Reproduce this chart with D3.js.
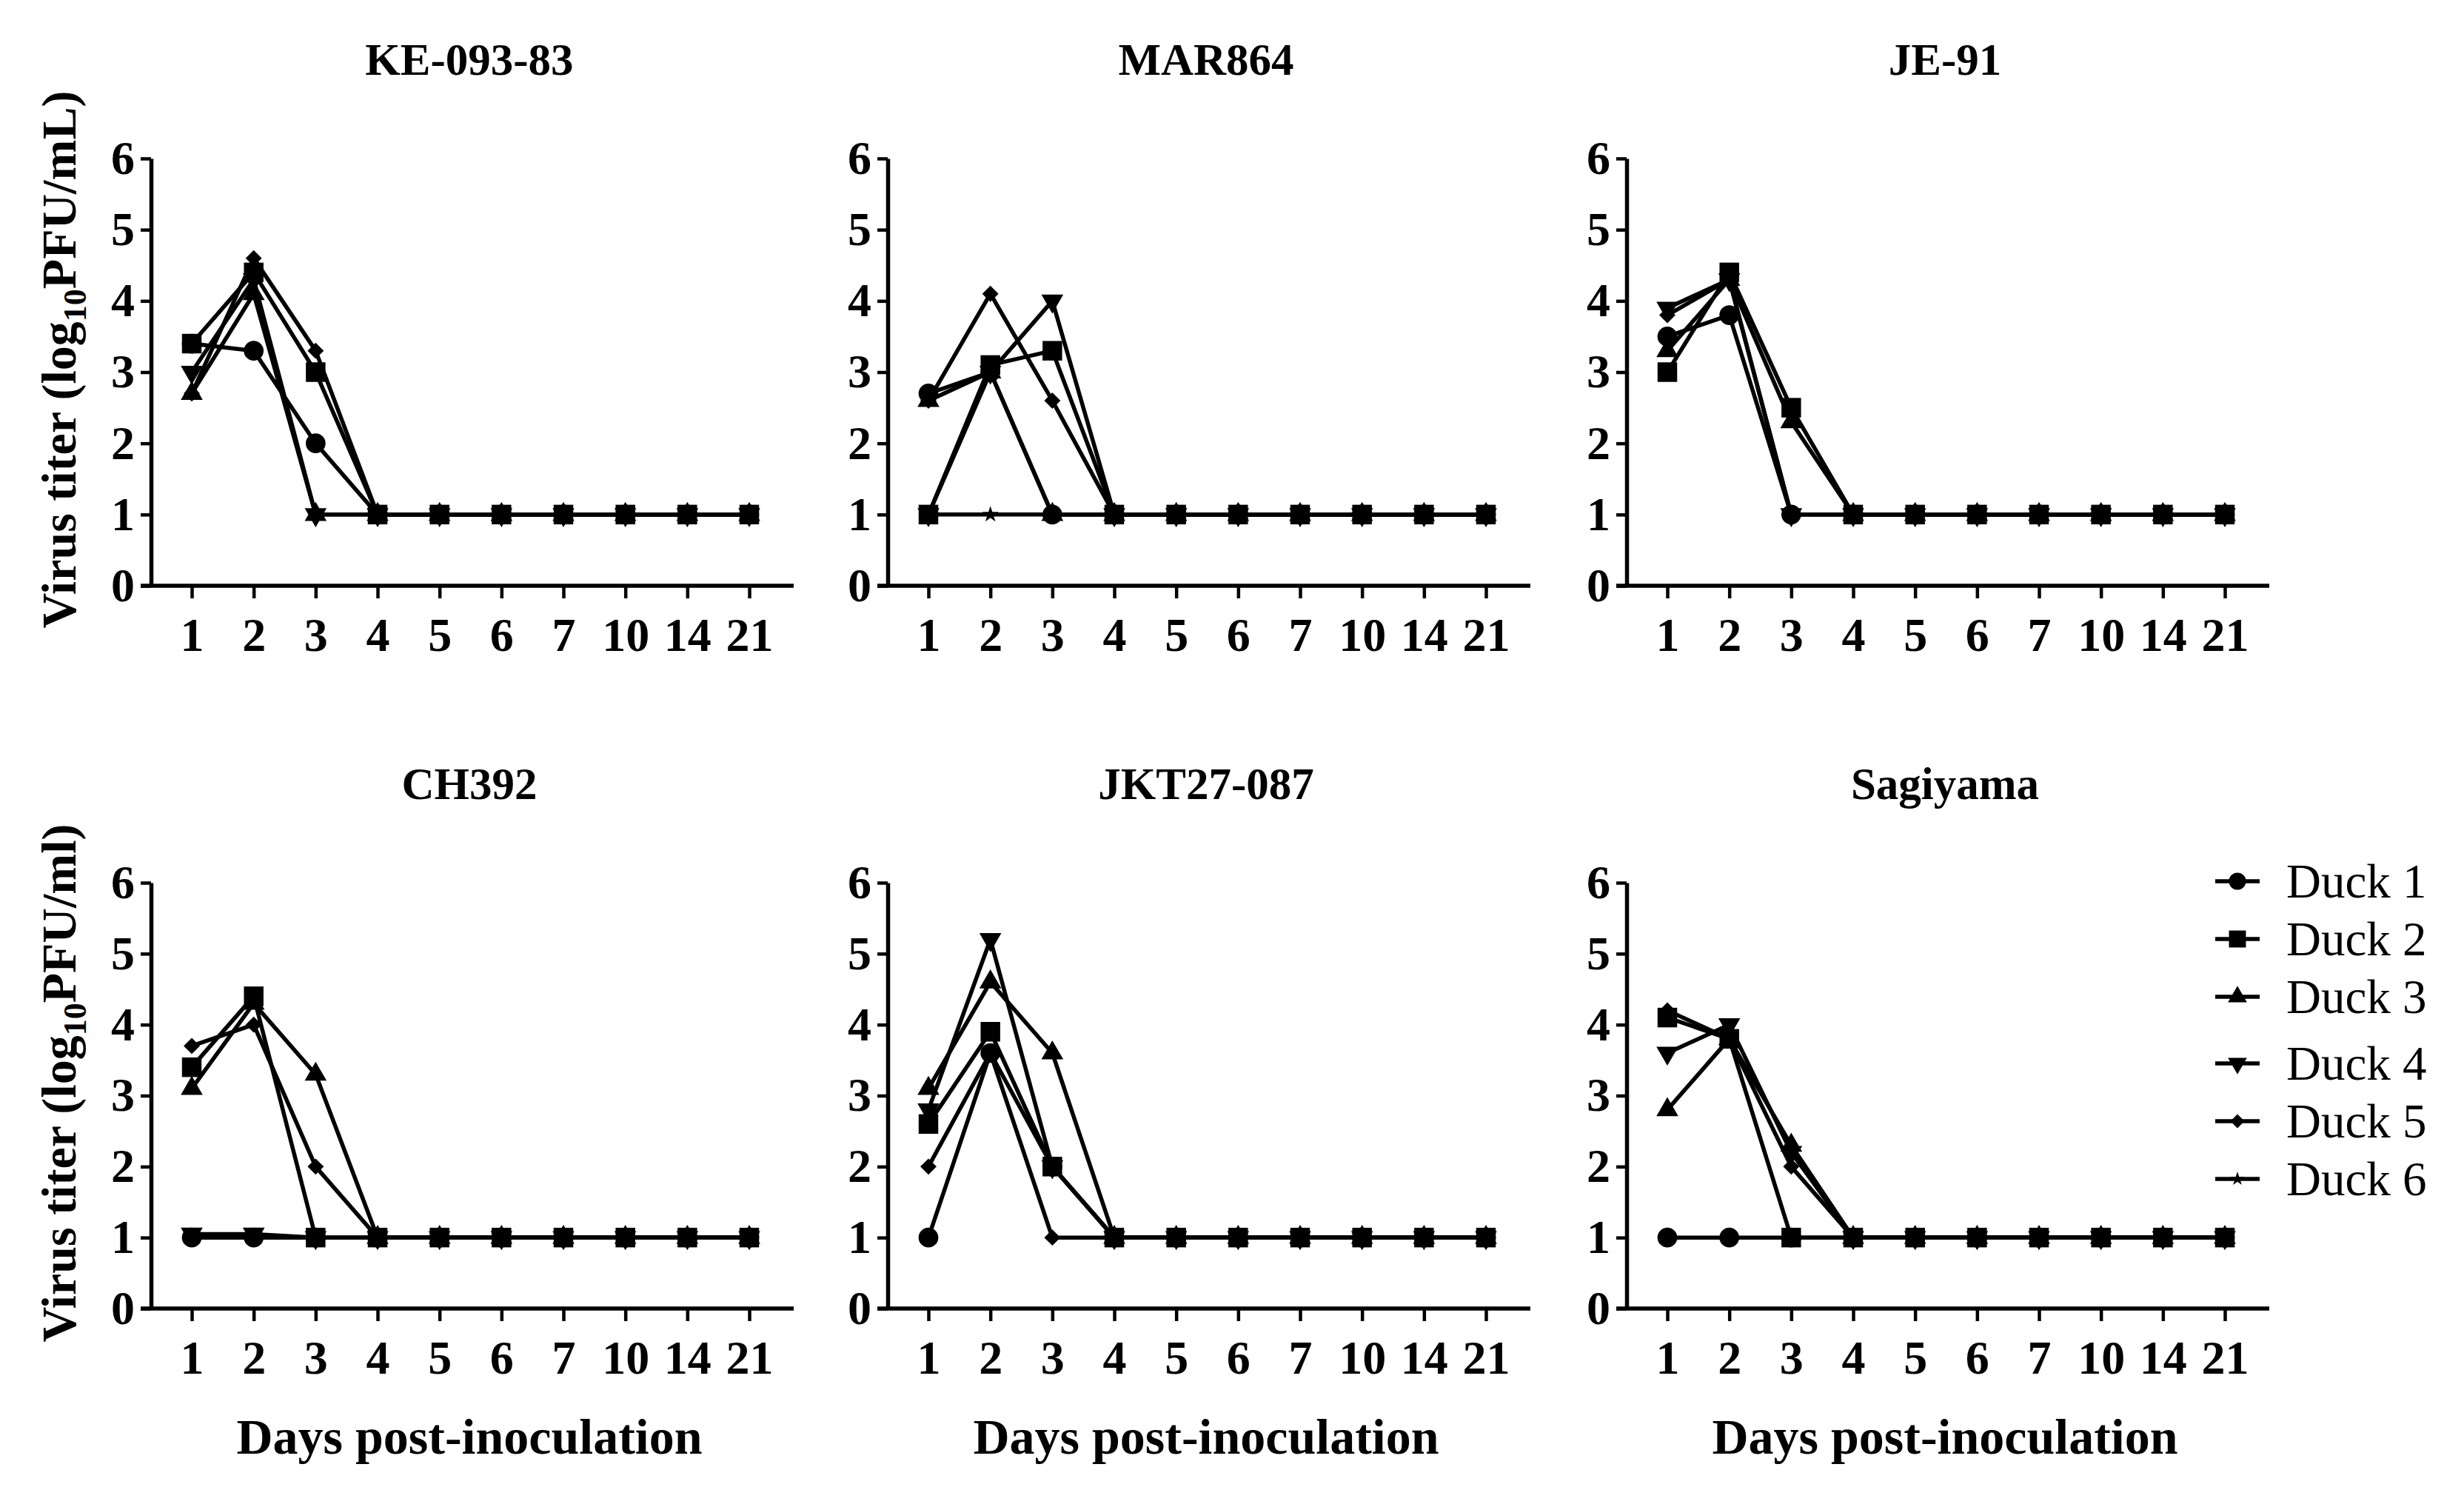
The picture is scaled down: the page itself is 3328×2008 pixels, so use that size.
<!DOCTYPE html>
<html>
<head>
<meta charset=utf-8>
<style>
body {margin: 0; background: #fff;}
svg {display: block; background: #fff;}
.axis path, .axis line {stroke: #000;}
.axis text {font-family: 'Palatino Linotype', 'Book Antiqua', Palatino, 'Liberation Serif', serif; font-weight: bold; fill: #000;}
.title {font-family: 'Palatino Linotype', 'Book Antiqua', Palatino, 'Liberation Serif', serif; font-weight: bold;}
.legend text {font-family: 'Palatino Linotype', 'Book Antiqua', Palatino, 'Liberation Serif', serif;}
</style>
</head>
<body>
<svg id=chart width=3328 height=2008></svg>

<script src='https://cdn.jsdelivr.net/npm/d3@7'></script>
<script>
//data, one row per duck, one value per day (null = not plotted)
var days = ['1', '2', '3', '4', '5', '6', '7', '10', '14', '21'];
var ducks = ['Duck 1', 'Duck 2', 'Duck 3', 'Duck 4', 'Duck 5', 'Duck 6'];
var strains = ['KE-093-83', 'MAR864', 'JE-91', 'CH392', 'JKT27-087', 'Sagiyama'];
var yTicks = [0, 1, 2, 3, 4, 5, 6];
var yTitles = ['Virus titer (log|10|PFU/mL)', 'Virus titer (log|10|PFU/ml)'];
var xTitle = 'Days post-inoculation';

var ke09383 = [
  [3.4, 3.3, 2.0, 1, 1, 1, 1, 1, 1, 1],
  [3.4, 4.4, 3.0, 1, 1, 1, 1, 1, 1, 1],
  [2.7, 4.1, 1, 1, 1, 1, 1, 1, 1, 1],
  [3.0, 4.3, 1, 1, 1, 1, 1, 1, 1, 1],
  [2.7, 4.6, 3.3, 1, 1, 1, 1, 1, 1, 1],
  null
];
var mar864 = [
  [2.7, 3.0, 1, 1, 1, 1, 1, 1, 1, 1],
  [1, 3.1, 3.3, 1, 1, 1, 1, 1, 1, 1],
  [2.6, 3.0, 1, 1, 1, 1, 1, 1, 1, 1],
  [1, 3.0, 4.0, 1, 1, 1, 1, 1, 1, 1],
  [2.6, 4.1, 2.6, 1, 1, 1, 1, 1, 1, 1],
  [1, 1, 1, 1, 1, 1, 1, 1, 1, 1]
];
var je91 = [
  [3.5, 3.8, 1, 1, 1, 1, 1, 1, 1, 1],
  [3.0, 4.4, 2.5, 1, 1, 1, 1, 1, 1, 1],
  [3.3, 4.3, 2.3, 1, 1, 1, 1, 1, 1, 1],
  [3.9, 4.3, 1, 1, 1, 1, 1, 1, 1, 1],
  [3.8, 4.3, 1, 1, 1, 1, 1, 1, 1, 1],
  null
];
var ch392 = [
  [1, 1, 1, 1, 1, 1, 1, 1, 1, 1],
  [3.4, 4.4, 1, 1, 1, 1, 1, 1, 1, 1],
  [3.1, 4.3, 3.3, 1, 1, 1, 1, 1, 1, 1],
  [1.05, 1.05, 1, 1, 1, 1, 1, 1, 1, 1],
  [3.7, 4.0, 2.0, 1, 1, 1, 1, 1, 1, 1],
  null
];
var jkt27087 = [
  [1, 3.6, 2.0, 1, 1, 1, 1, 1, 1, 1],
  [2.6, 3.9, 2.0, 1, 1, 1, 1, 1, 1, 1],
  [3.1, 4.6, 3.6, 1, 1, 1, 1, 1, 1, 1],
  [2.8, 5.2, 2.0, 1, 1, 1, 1, 1, 1, 1],
  [2.0, 3.6, 1, 1, 1, 1, 1, 1, 1, 1],
  null
];
var sagiyama = [
  [1, 1, 1, 1, 1, 1, 1, 1, 1, 1],
  [4.1, 3.8, 1, 1, 1, 1, 1, 1, 1, 1],
  [2.8, 3.8, 2.3, 1, 1, 1, 1, 1, 1, 1],
  [3.6, 4.0, 2.2, 1, 1, 1, 1, 1, 1, 1],
  [4.2, 3.8, 2.0, 1, 1, 1, 1, 1, 1, 1],
  null
];
var panelData = [ke09383, mar864, je91, ch392, jkt27087, sagiyama];

//layout
var colX = [204, 1199, 2197];      //x of each y axis
var rowTop = [214, 1192];          //y of value 6
var rowBottom = [791, 1767];       //y of value 0
var fontBig = 64;

//marker shapes per duck
var sym = [
  {type: d3.symbolCircle, size: 560, rot: 0},
  {type: d3.symbolSquare, size: 700, rot: 0},
  {type: d3.symbolTriangle, size: 380, rot: 0},
  {type: d3.symbolTriangle, size: 380, rot: 180},
  {type: d3.symbolSquare, size: 240, rot: 45},
  {type: d3.symbolStar, size: 150, rot: 0}
];

var svg = d3.select('#chart');

strains.forEach(function(name, p){
  var row = Math.floor(p / 3), col = p % 3;
  var ax = colX[col];
  var x = d3.scalePoint().domain(days).range([ax + 55, ax + 808]);
  var y = d3.scaleLinear().domain([0, 6]).range([rowBottom[row], rowTop[row]]);
  var g = svg.append('g');

  //y axis
  var ya = g.append('g')
      .attr('class', 'axis')
      .attr('transform', 'translate(' + ax + ',0)')
      .call(d3.axisLeft(y).tickValues(yTicks).tickFormat(d3.format('d'))
        .tickSize(14).tickSizeOuter(0).tickPadding(8));
  ya.select('.domain').attr('stroke-width', 5.5);
  ya.selectAll('.tick line').attr('stroke-width', 4.5);
  ya.selectAll('text').style('font-size', fontBig + 'px');

  //x axis
  var xa = g.append('g')
      .attr('class', 'axis')
      .attr('transform', 'translate(0,' + rowBottom[row] + ')')
      .call(d3.axisBottom(x).tickSize(17).tickSizeOuter(0).tickPadding(26));
  xa.select('.domain').attr('d', 'M' + (ax - 14) + ',0H' + (ax + 868)).attr('stroke-width', 5.5);
  xa.selectAll('.tick line').attr('stroke-width', 4.5);
  xa.selectAll('text').style('font-size', fontBig + 'px');

  //panel title
  g.append('text')
      .attr('class', 'title')
      .attr('text-anchor', 'middle')
      .attr('x', ax + 430)
      .attr('y', rowTop[row] - 113)
      .style('font-size', '61px')
      .text(name);

  //y axis title on left column
  if(col === 0){
    var parts = yTitles[row].split('|');
    var t = g.append('text')
        .attr('class', 'title')
        .attr('text-anchor', 'middle')
        .attr('transform', 'translate(102,' + ((rowTop[row] + rowBottom[row]) / 2 - 17) + ') rotate(-90)')
        .style('font-size', '66px');
    t.append('tspan').text(parts[0]);
    t.append('tspan').attr('dy', 14).style('font-size', '44px').text(parts[1]);
    t.append('tspan').attr('dy', -14).text(parts[2]);
  }

  //x axis title on bottom row
  if(row === 1){
    g.append('text')
        .attr('class', 'title')
        .attr('text-anchor', 'middle')
        .attr('x', ax + 430)
        .attr('y', 1963)
        .style('font-size', '68px')
        .text(xTitle);
  }

  //lines
  var line = d3.line()
      .defined(function(d){ return d != null; })
      .x(function(d, i){ return x(days[i]); })
      .y(function(d){ return y(d); });
  var series = panelData[p];
  series.forEach(function(vals, k){
    if(!vals) return;
    g.append('path')
        .attr('d', line(vals))
        .attr('fill', 'none')
        .attr('stroke', '#000')
        .attr('stroke-width', 5.5)
        .attr('stroke-linejoin', 'round');
  });

  //markers
  series.forEach(function(vals, k){
    if(!vals) return;
    var s = d3.symbol().type(sym[k].type).size(sym[k].size);
    g.selectAll('.m' + k)
      .data(vals.map(function(v, i){ return {v: v, i: i}; }).filter(function(d){ return d.v != null; }))
      .enter().append('path')
        .attr('class', 'm' + k)
        .attr('d', s)
        .attr('fill', '#000')
        .attr('transform', function(d){
          return 'translate(' + x(days[d.i]) + ',' + y(d.v) + ') rotate(' + sym[k].rot + ')';
        });
  });
});

//legend
var legend = svg.append('g').attr('class', 'legend');
ducks.forEach(function(name, k){
  var ly = 1190 + k * 78 + (k >= 3 ? 12 : 0);
  legend.append('line')
      .attr('x1', 2992).attr('x2', 3052)
      .attr('y1', ly).attr('y2', ly)
      .attr('stroke', '#000').attr('stroke-width', 5.5);
  legend.append('path')
      .attr('d', d3.symbol().type(sym[k].type).size(sym[k].size * 0.75))
      .attr('transform', 'translate(3022,' + ly + ') rotate(' + sym[k].rot + ')')
      .attr('fill', '#000');
  legend.append('text')
      .attr('x', 3088)
      .attr('y', ly + 22)
      .style('font-size', '65px')
      .text(name);
});
</script>
</body>
</html>
